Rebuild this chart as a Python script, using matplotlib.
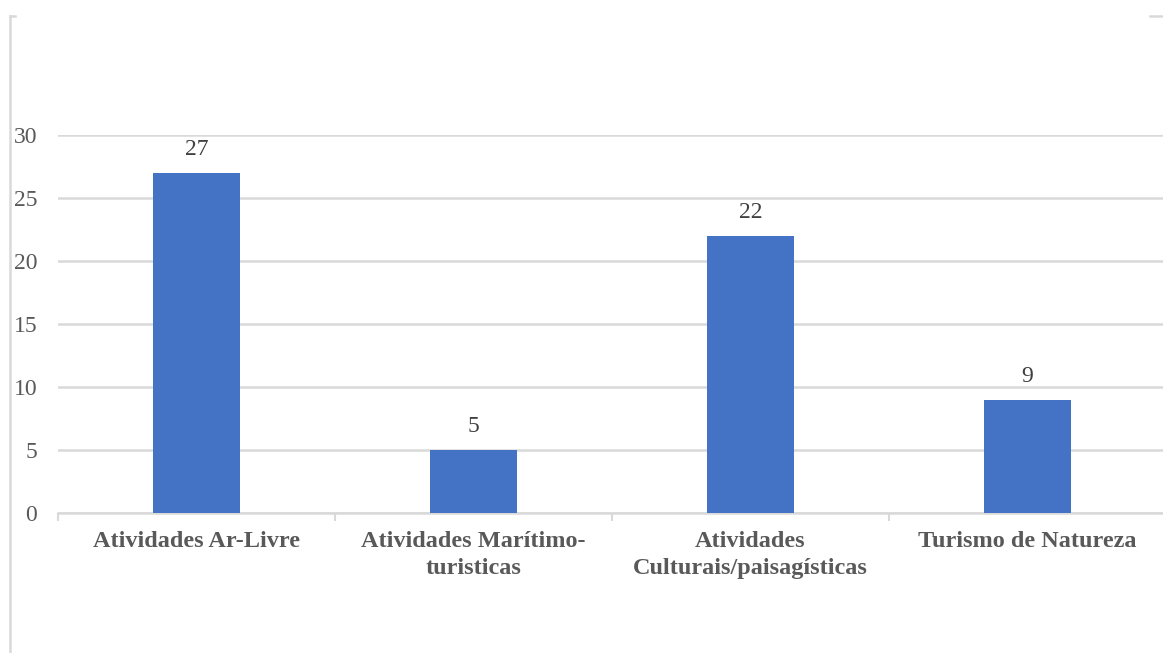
import matplotlib.pyplot as plt
from matplotlib.lines import Line2D

# dados do gráfico
categorias = ["Atividades Ar-Livre", "Atividades Marítimo-\nturisticas",
              "Atividades\nCulturais/paisagísticas", "Turismo de Natureza"]
valores = [27, 5, 22, 9]
yticks = [0, 5, 10, 15, 20, 25, 30]

plt.rcParams['font.family'] = ['Liberation Serif', 'DejaVu Serif']

W, H = 1163, 653
fig = plt.figure(figsize=(W / 100, H / 100), dpi=100)
ax = fig.add_axes([58 / W, 1 - 513 / H, (1166 - 58) / W, (513 - 135) / H])

cinza = "#D9D9D9"
x = range(len(valores))
barras = ax.bar(x, valores, width=0.314, color="#4472C4", zorder=3)

# rótulos de valor acima das barras
for b, v in zip(barras, valores):
    ax.annotate(str(v), (b.get_x() + b.get_width() / 2, v),
                xytext=(0, 9), textcoords="offset points",
                ha="center", va="bottom", fontsize=17, color="#404040")

ax.set_xlim(-0.5, 3.5)
ax.set_ylim(0, 30)
ax.set_yticks(yticks)
ax.set_yticklabels([str(t) for t in yticks], fontsize=17, color="#595959")
ax.tick_params(axis="y", length=0, pad=15)
ax.grid(axis="y", color=cinza, linewidth=1.8, zorder=0)

ax.set_xticks(list(x))
ax.set_xticklabels(categorias, fontsize=17.5, fontweight="bold", color="#595959",
                   linespacing=1.4)
ax.tick_params(axis="x", which="major", length=0, pad=13)
ax.set_xticks([i - 0.5 for i in range(len(valores) + 1)], minor=True)
ax.tick_params(axis="x", which="minor", length=6, width=1.5, color=cinza)

for lado in ["top", "right", "left"]:
    ax.spines[lado].set_visible(False)
ax.spines["bottom"].set_color(cinza)
ax.spines["bottom"].set_linewidth(1.8)

# moldura parcial da área do gráfico
def linha_px(x0, y0, x1, y1):
    fig.add_artist(Line2D([x0 / W, x1 / W], [1 - y0 / H, 1 - y1 / H],
                          transform=fig.transFigure, color=cinza, linewidth=1.8))

linha_px(10, 16, 10, 653)
linha_px(10, 16, 15, 16)
linha_px(1150, 16, 1163, 16)

fig.savefig("out.png", dpi=100)
